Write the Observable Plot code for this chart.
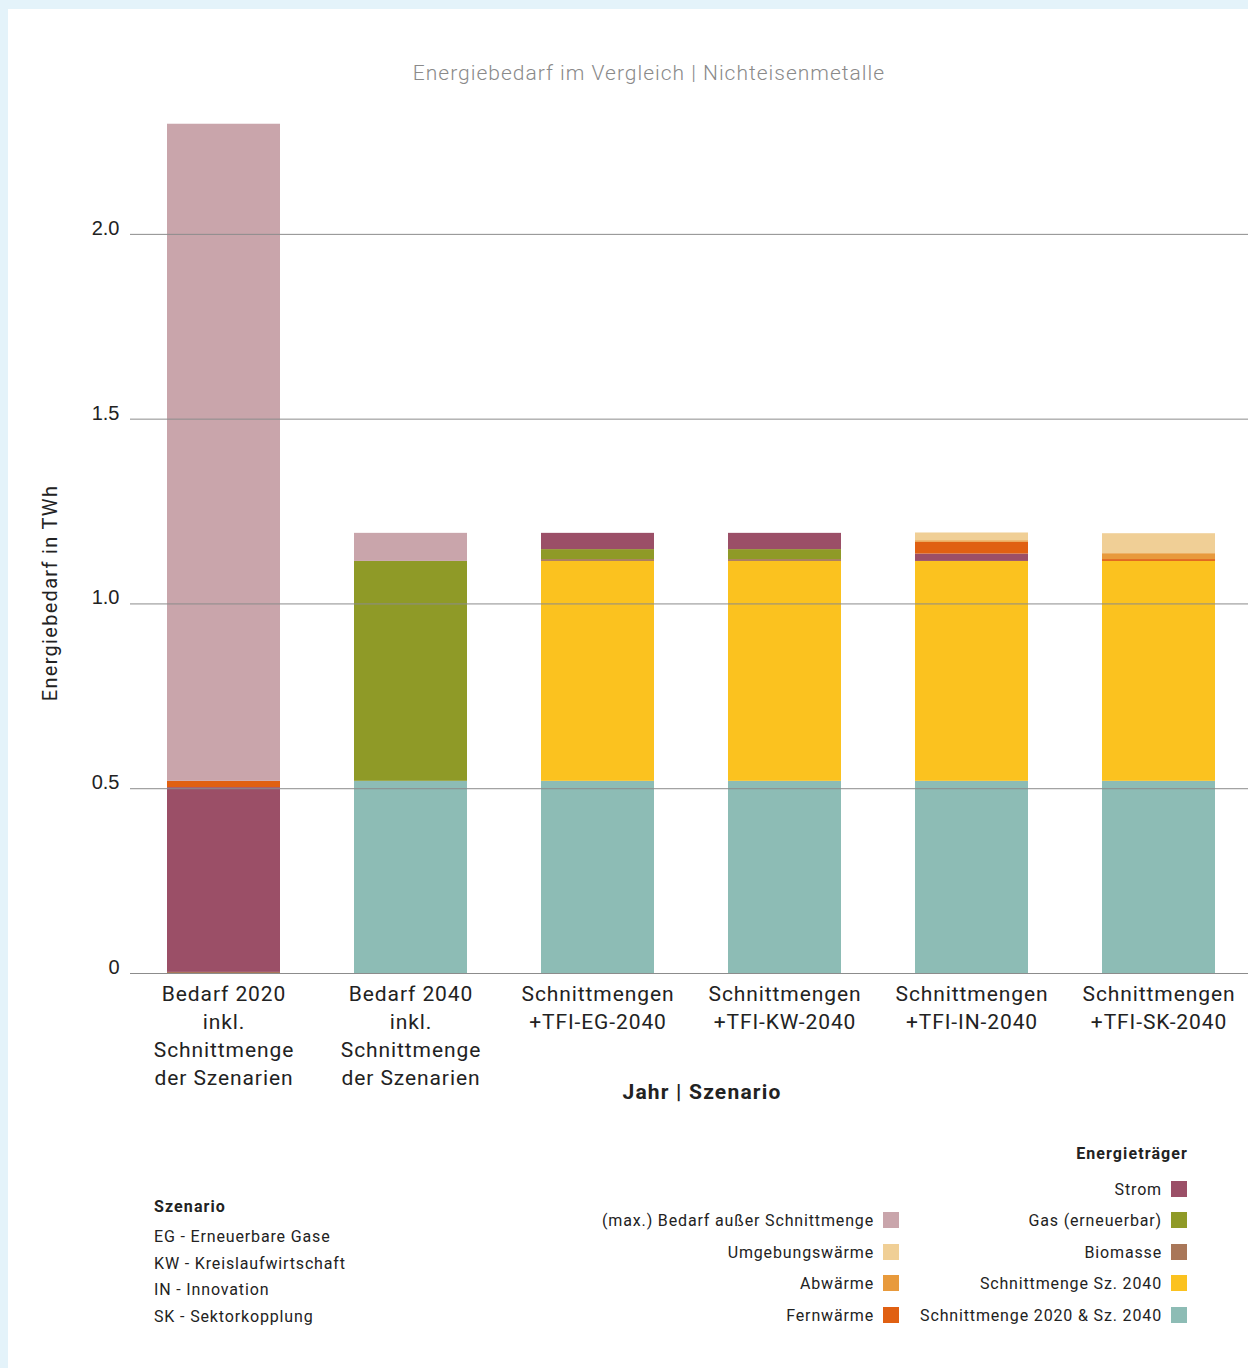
<!DOCTYPE html>
<html lang="de">
<head>
<meta charset="utf-8">
<script src="https://cdn.jsdelivr.net/npm/d3@7"></script>
<script src="https://cdn.jsdelivr.net/npm/@observablehq/plot@0.6"></script>
<style>
  html, body { margin: 0; padding: 0; background: #e4f3fa; }
  body { width: 1248px; height: 1368px; position: relative; overflow: hidden; font-family: Roboto, "Noto Sans", sans-serif; color: #222; }
  #panel { position: absolute; left: 8px; top: 9px; width: 1240px; height: 1359px; background: #fff; }
  #chart { position: absolute; left: 0; top: 0; }
  .abs { position: absolute; white-space: nowrap; }
  #title { left: 0; width: 1298px; top: 61px; text-align: center; font-size: 21px; letter-spacing: 1px; color: #8a8a8a; font-weight: 300; }
  #ylabel { left: 50px; top: 593px; font-size: 20px; letter-spacing: 1.3px; transform: translate(-50%, -50%) rotate(-90deg); }
  #xlabel { left: 702px; top: 1080px; transform: translateX(-50%); font-size: 21px; letter-spacing: 1.2px; font-weight: 700; }
  .lg { font-size: 16px; letter-spacing: 0.85px; }
  .lg-row { position: absolute; display: flex; align-items: center; justify-content: flex-end; white-space: nowrap; }
  .sw { display: inline-block; width: 16px; height: 16px; margin-left: 9px; }
  .head { font-weight: 700; letter-spacing: 1.1px; }
</style>
</head>
<body>
<div id="panel"></div>
<div id="chart"></div>
<div id="title" class="abs">Energiebedarf im Vergleich | Nichteisenmetalle</div>
<div id="ylabel" class="abs">Energiebedarf in TWh</div>
<div id="xlabel" class="abs">Jahr | Szenario</div>
<div id="legends"></div>
<script>
// Bars (Jahr | Szenario)
const categories = ["B2020", "B2040", "EG", "KW", "IN", "SK"];
const categoryLabels = [
  "Bedarf 2020\ninkl.\nSchnittmenge\nder Szenarien",
  "Bedarf 2040\ninkl.\nSchnittmenge\nder Szenarien",
  "Schnittmengen\n+TFI-EG-2040",
  "Schnittmengen\n+TFI-KW-2040",
  "Schnittmengen\n+TFI-IN-2040",
  "Schnittmengen\n+TFI-SK-2040"
];

// Energieträger, in stacking order from bottom to top
const seriesOrder = [
  "Schnittmenge 2020 & Sz. 2040",
  "Schnittmenge Sz. 2040",
  "Biomasse",
  "Gas (erneuerbar)",
  "Strom",
  "Fernwärme",
  "Abwärme",
  "Umgebungswärme",
  "(max.) Bedarf außer Schnittmenge"
];

// Values in TWh per bar (same order as categories)
const schnittmenge2020u2040 = [0,     0.520, 0.520, 0.520, 0.520, 0.520];
const schnittmenge2040      = [0,     0,     0.595, 0.595, 0.595, 0.595];
const biomasse              = [0.003, 0,     0.005, 0.005, 0,     0];
const gasErneuerbar         = [0,     0.595, 0.027, 0.027, 0,     0];
const strom                 = [0.500, 0,     0.044, 0.044, 0.020, 0];
const fernwaerme            = [0.017, 0,     0,     0,     0.032, 0.005];
const abwaerme              = [0,     0,     0,     0,     0.004, 0.016];
const umgebungswaerme       = [0,     0,     0,     0,     0.021, 0.054];
const bedarfAusser          = [1.778, 0.076, 0,     0,     0,     0];

const seriesValues = [
  schnittmenge2020u2040, schnittmenge2040, biomasse, gasErneuerbar, strom,
  fernwaerme, abwaerme, umgebungswaerme, bedarfAusser
];

const seriesColors = [
  "#8dbcb5", "#fbc21f", "#a97759", "#8f9a27", "#9b4f67",
  "#e06012", "#e89a3c", "#f0cf96", "#c9a5ab"
];

const yTicks = [0, 0.5, 1.0, 1.5, 2.0];

// Long table for the stacked bars
const rows = [];
seriesOrder.forEach((s, si) => {
  categories.forEach((c, ci) => {
    const v = seriesValues[si][ci];
    if (v > 0) rows.push({category: c, series: s, value: v});
  });
});

const labelOf = Object.fromEntries(categories.map((c, i) => [c, categoryLabels[i]]));

const chart = Plot.plot({
  width: 1248,
  height: 1110,
  marginTop: 123,
  marginBottom: 137,
  marginLeft: 130,
  marginRight: 0,
  style: {background: "transparent", fontFamily: "Roboto, sans-serif", color: "#222"},
  x: {domain: categories, range: [130, 1253], paddingInner: 0.395, paddingOuter: 0.1975, axis: null},
  y: {domain: [0, 2.3], axis: null},
  color: {domain: seriesOrder, range: seriesColors},
  marks: [
    Plot.barY(rows, {x: "category", y: "value", fill: "series", order: seriesOrder}),
    Plot.gridY(yTicks.filter(d => d > 0), {stroke: "#8c8c8c", strokeOpacity: 1, strokeWidth: 1}),
    Plot.ruleY([0], {stroke: "#8c8c8c", strokeWidth: 1.2}),
    Plot.axisY({
      ticks: yTicks,
      tickSize: 0,
      tickPadding: 11,
      tickFormat: d => d === 0 ? "0" : d.toFixed(1),
      fontSize: 20,
      fontFamily: "Liberation Sans, Arial, sans-serif",
      dy: -6,
      label: null
    }),
    Plot.axisX({
      tickSize: 0,
      tickPadding: 8,
      tickFormat: d => labelOf[d],
      fontSize: 21,
      lineHeight: 1.33,
      lineAnchor: "top",
      label: null
    })
  ]
});
// Wider tracking for the category labels
chart.querySelectorAll('g[aria-label="x-axis tick label"] text').forEach(t => {
  t.style.letterSpacing = "0.9px";
});
document.getElementById("chart").appendChild(chart);

// Legends below the chart
const legendHost = document.getElementById("legends");
function addRow(text, color, rightX, y, bold) {
  const row = document.createElement("div");
  row.className = "lg lg-row" + (bold ? " head" : "");
  row.style.right = (1248 - rightX) + "px";
  row.style.top = (y - 10) + "px";
  row.style.height = "20px";
  const t = document.createElement("span");
  t.textContent = text;
  row.appendChild(t);
  if (color) {
    const sw = document.createElement("span");
    sw.className = "sw";
    sw.style.background = color;
    row.appendChild(sw);
  }
  legendHost.appendChild(row);
}
const colorOf = Object.fromEntries(seriesOrder.map((s, i) => [s, seriesColors[i]]));

const legendRight = ["Strom", "Gas (erneuerbar)", "Biomasse", "Schnittmenge Sz. 2040", "Schnittmenge 2020 & Sz. 2040"];
const legendLeft = ["(max.) Bedarf außer Schnittmenge", "Umgebungswärme", "Abwärme", "Fernwärme"];
const rowY = [1189, 1220, 1252, 1283, 1315];

addRow("Energieträger", null, 1188, 1153, true);
legendRight.forEach((s, i) => addRow(s, colorOf[s], 1187, rowY[i], false));
legendLeft.forEach((s, i) => addRow(s, colorOf[s], 899, rowY[i + 1], false));

const scenarioLines = ["EG - Erneuerbare Gase", "KW - Kreislaufwirtschaft", "IN - Innovation", "SK - Sektorkopplung"];
const scenY = [1207, 1237, 1264, 1290, 1317];
function addLeft(text, y, bold) {
  const d = document.createElement("div");
  d.className = "abs lg" + (bold ? " head" : "");
  d.style.left = "154px";
  d.style.top = (y - 10) + "px";
  d.style.lineHeight = "20px";
  d.textContent = text;
  legendHost.appendChild(d);
}
addLeft("Szenario", scenY[0], true);
scenarioLines.forEach((s, i) => addLeft(s, scenY[i + 1], false));
</script>
</body>
</html>
